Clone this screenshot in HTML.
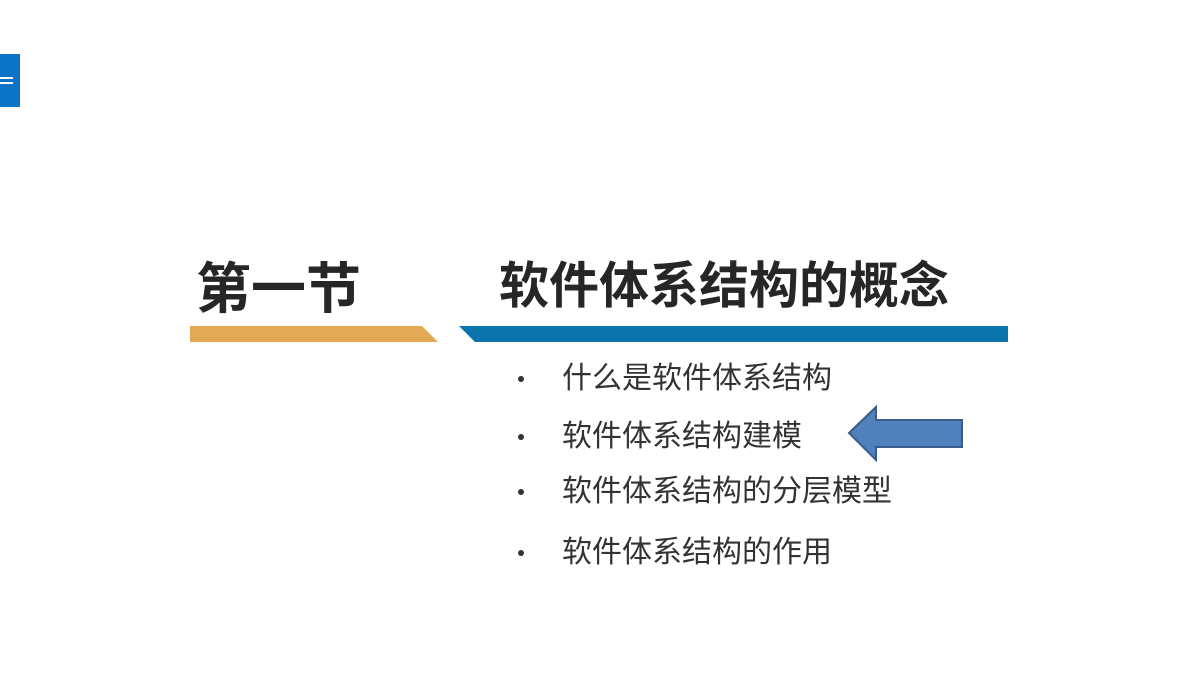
<!DOCTYPE html>
<html><head><meta charset="utf-8"><style>
body{margin:0;width:1200px;height:675px;background:#fff;position:relative;overflow:hidden;font-family:"Liberation Sans","Noto Sans CJK SC",sans-serif;}
.t{position:absolute;white-space:nowrap;color:#262626;}
.h{font-weight:bold;line-height:1;}
.b{font-size:30px;line-height:1;color:#333;}
.d{position:absolute;width:6px;height:6px;border-radius:50%;background:#333;}
</style></head><body>
<div style="position:absolute;left:0;top:54px;width:20px;height:53px;background:#0b74c8"></div>
<div style="position:absolute;left:0;top:77px;width:13px;height:2px;background:#fff"></div>
<div style="position:absolute;left:0;top:82px;width:13px;height:2px;background:#fff"></div>
<div class="t h" style="left:196px;top:262px;font-size:55px;">第一节</div>
<div class="t h" style="left:499px;top:261px;font-size:50px;">软件体系结构的概念</div>
<svg style="position:absolute;left:0;top:0" width="1200" height="675">
<polygon points="190,326 422,326 438,342 190,342" fill="#e3a853"/>
<polygon points="459,326 1008,326 1008,342 475,342" fill="#0b74ac"/>
<polygon points="849,433 876,407 876,420 962,420 962,447 876,447 876,460" fill="#4f81bd" stroke="#385d8a" stroke-width="2"/>
</svg>
<div class="d" style="left:518px;top:376px"></div>
<div class="d" style="left:518px;top:434px"></div>
<div class="d" style="left:518px;top:489px"></div>
<div class="d" style="left:518px;top:550px"></div>
<div class="t b" style="left:562px;top:364px">什么是软件体系结构</div>
<div class="t b" style="left:562px;top:422px">软件体系结构建模</div>
<div class="t b" style="left:562px;top:477px">软件体系结构的分层模型</div>
<div class="t b" style="left:562px;top:538px">软件体系结构的作用</div>
</body></html>
